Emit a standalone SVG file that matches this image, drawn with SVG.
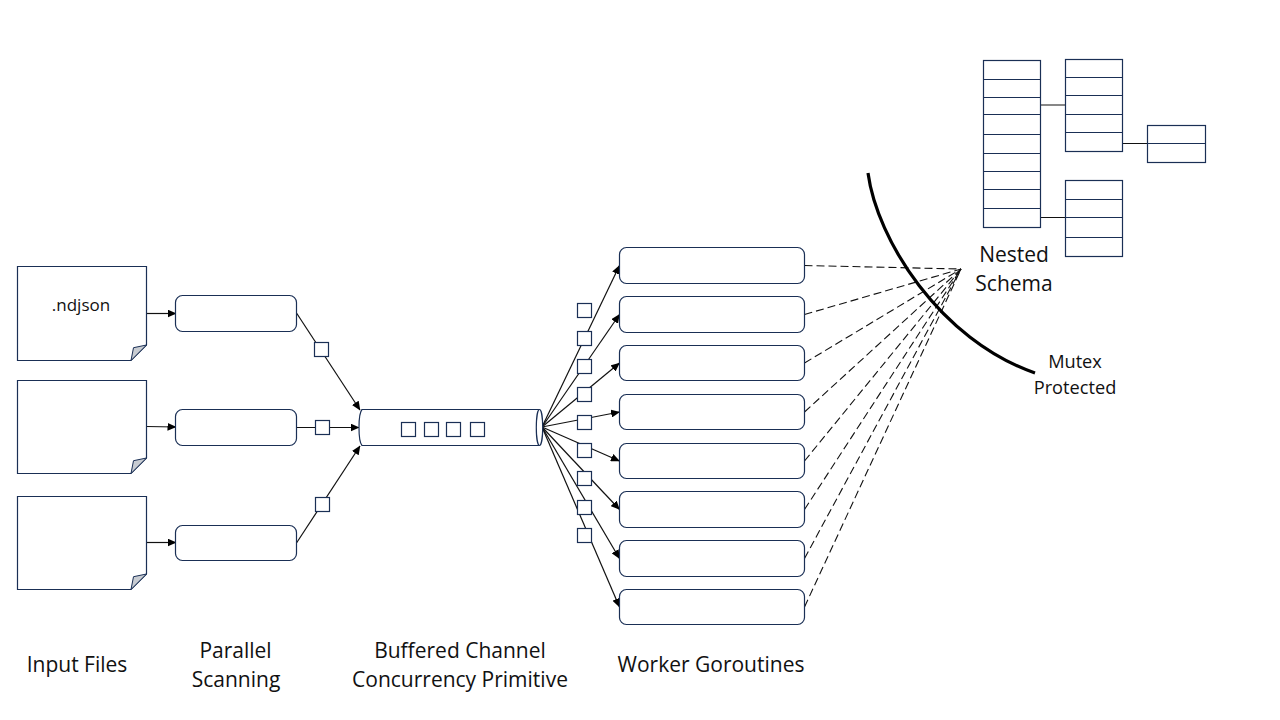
<svg xmlns="http://www.w3.org/2000/svg" width="1280" height="720" viewBox="0 0 1280 720">
<style>
.s{fill:#fff;stroke:#1a2f55;stroke-width:1.2}
.l{fill:none;stroke:#1a2f55;stroke-width:1.2}
.c{fill:none;stroke:#111;stroke-width:1.2}
.a{marker-end:url(#ah)}
.d{fill:none;stroke:#111;stroke-width:1.1;stroke-dasharray:8 4}
.f{fill:#c8ccd2;stroke:#1a2f55;stroke-width:1}
text{font-family:"Open Sans","Noto Sans","Liberation Sans",sans-serif;fill:#111;text-anchor:middle}
.t{font-size:21px}
.m{font-size:18.2px}
</style>
<defs>
<marker id="ah" markerUnits="userSpaceOnUse" markerWidth="9" markerHeight="8" refX="8.5" refY="4" orient="auto"><path d="M0 0L9 4L0 8Z" fill="#000"/></marker>
</defs>
<rect width="1280" height="720" fill="#fff"/>
<g id="connectors">
<path class="c a" d="M146.5 313.5H176"/>
<path class="c a" d="M146.5 426.5L176 427"/>
<path class="c a" d="M146.5 542.5H176"/>
<path class="c a" d="M296.5 313L360 410"/>
<path class="c a" d="M296.5 427.5H359"/>
<path class="c a" d="M296.5 543L360 446"/>
<path class="c a" d="M542 427L619.5 265.5"/>
<path class="c a" d="M542 427L619.5 314.5"/>
<path class="c a" d="M542 427L619.5 363"/>
<path class="c a" d="M542 427L619.5 412"/>
<path class="c a" d="M542 427L619.5 461"/>
<path class="c a" d="M542 427L619.5 509.5"/>
<path class="c a" d="M542 427L619.5 558.5"/>
<path class="c a" d="M542 427L619.5 607"/>
<path class="d" d="M804.5 265.5L961 269"/>
<path class="d" d="M804.5 314.5L961 269"/>
<path class="d" d="M804.5 363L961 269"/>
<path class="d" d="M804.5 412L961 269"/>
<path class="d" d="M804.5 461L961 269"/>
<path class="d" d="M804.5 509.5L961 269"/>
<path class="d" d="M804.5 558.5L961 269"/>
<path class="d" d="M804.5 607L961 269"/>
<path class="c" d="M1040.5 105H1065.5M1122.5 143.5H1147.5M1040.5 217.5H1065.5"/>
</g>
<g id="file-1"><path class="s" d="M17.5 266.5H146.5V345L131 360.500H17.5Z"/><path class="f" d="M131 360.500L133.500 347.700L146.500 345Z"/><text x="81" y="311" font-size="17">.ndjson</text></g>
<g id="file-2"><path class="s" d="M17.5 380.5H146.5V458L131 473.500H17.5Z"/><path class="f" d="M131 473.500L133.500 460.700L146.500 458Z"/></g>
<g id="file-3"><path class="s" d="M17.5 496.5H146.5V574L131 589.500H17.5Z"/><path class="f" d="M131 589.500L133.500 576.700L146.500 574Z"/></g>
<g id="scan-1"><rect class="s" x="175.5" y="295.5" width="121" height="36" rx="7"/></g>
<g id="scan-2"><rect class="s" x="175.5" y="409.5" width="121" height="36" rx="7"/></g>
<g id="scan-3"><rect class="s" x="175.5" y="525.5" width="121" height="35" rx="7"/></g>
<g id="scan-items">
<rect class="s" x="314.5" y="342.5" width="14" height="14"/>
<rect class="s" x="315.5" y="420.5" width="14" height="14"/>
<rect class="s" x="315.5" y="497.5" width="14" height="14"/>
</g>
<g id="channel">
<path class="s" d="M362 409.5H539C543 414 543 441 539 445.5H362C358 441 358 414 362 409.5Z"/>
<ellipse class="s" cx="539.5" cy="427.5" rx="3.2" ry="18"/>
<rect class="s" x="401.5" y="422.5" width="14" height="14"/>
<rect class="s" x="424.5" y="422.5" width="14" height="14"/>
<rect class="s" x="446.5" y="422.5" width="14" height="14"/>
<rect class="s" x="470.5" y="422.5" width="14" height="14"/>
</g>
<g id="worker-items">
<rect class="s" x="577.5" y="303.5" width="14" height="14"/>
<rect class="s" x="577.5" y="331.5" width="14" height="14"/>
<rect class="s" x="577.5" y="359.5" width="14" height="14"/>
<rect class="s" x="577.5" y="387.5" width="14" height="14"/>
<rect class="s" x="577.5" y="415.5" width="14" height="14"/>
<rect class="s" x="577.5" y="443.5" width="14" height="14"/>
<rect class="s" x="577.5" y="471.5" width="14" height="14"/>
<rect class="s" x="577.5" y="500.5" width="14" height="14"/>
<rect class="s" x="577.5" y="528.5" width="14" height="14"/>
</g>
<g id="worker-1"><rect class="s" x="619.5" y="247.5" width="185" height="36" rx="7"/></g>
<g id="worker-2"><rect class="s" x="619.5" y="296.5" width="185" height="36" rx="7"/></g>
<g id="worker-3"><rect class="s" x="619.5" y="345.5" width="185" height="35" rx="7"/></g>
<g id="worker-4"><rect class="s" x="619.5" y="394.5" width="185" height="35" rx="7"/></g>
<g id="worker-5"><rect class="s" x="619.5" y="443.5" width="185" height="35" rx="7"/></g>
<g id="worker-6"><rect class="s" x="619.5" y="491.5" width="185" height="36" rx="7"/></g>
<g id="worker-7"><rect class="s" x="619.5" y="540.5" width="185" height="36" rx="7"/></g>
<g id="worker-8"><rect class="s" x="619.5" y="589.5" width="185" height="35" rx="7"/></g>
<g id="table-1"><rect class="s" x="983.5" y="60.5" width="57" height="167"/><path class="l" d="M983.5 79.5H1040.5M983.5 97.5H1040.5M983.5 114.5H1040.5M983.5 134.5H1040.5M983.5 153.5H1040.5M983.5 171.5H1040.5M983.5 189.5H1040.5M983.5 208.5H1040.5"/></g>
<g id="table-2"><rect class="s" x="1065.5" y="59.5" width="57" height="92"/><path class="l" d="M1065.5 77.5H1122.5M1065.5 95.5H1122.5M1065.5 114.5H1122.5M1065.5 132.5H1122.5"/></g>
<g id="table-3"><rect class="s" x="1147.5" y="125.5" width="58" height="37"/><path class="l" d="M1147.5 143.5H1205.5"/></g>
<g id="table-4"><rect class="s" x="1065.5" y="180.5" width="57" height="76"/><path class="l" d="M1065.5 199.5H1122.5M1065.5 217.5H1122.5M1065.5 237.5H1122.5"/></g>
<g id="mutex-boundary"><path d="M868 173C877 240 940 340 1035 373" fill="none" stroke="#000" stroke-width="3.2"/></g>
<g id="labels">
<text class="t" x="77" y="672">Input Files</text>
<text class="t" x="235.500" y="658">Parallel</text>
<text class="t" x="236" y="687">Scanning</text>
<text class="t" x="460" y="658">Buffered Channel</text>
<text class="t" x="460" y="687">Concurrency Primitive</text>
<text class="t" x="711" y="672">Worker Goroutines</text>
<text class="t" x="1014" y="262">Nested</text>
<text class="t" x="1014" y="291">Schema</text>
<text class="m" x="1075" y="368">Mutex</text>
<text class="m" x="1075" y="394">Protected</text>
</g>
</svg>
